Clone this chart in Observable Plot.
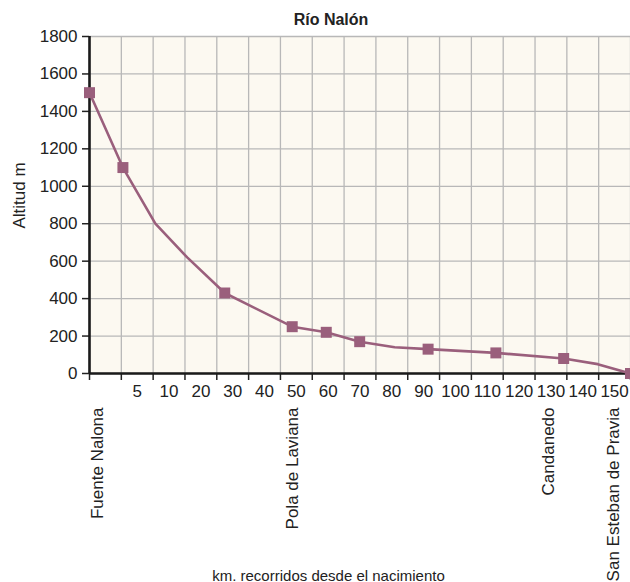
<!DOCTYPE html>
<html><head><meta charset="utf-8">
<script src="https://cdn.jsdelivr.net/npm/d3@7"></script>
<script src="https://cdn.jsdelivr.net/npm/@observablehq/plot@0.6"></script>
<style>body{margin:0;background:#fff;} svg{display:block;}</style>
</head><body><div id="chart"></div>
<script>
const title = "Río Nalón";
const yLabel = "Altitud m";
const xLabel = "km. recorridos desde el nacimiento";
// category bands along the x axis (one band per label)
const kmLabels = ["", "5", "10", "20", "30", "40", "50", "60", "70", "80", "90", "100", "110", "120", "130", "140", "150"];
const yTicks = [0, 200, 400, 600, 800, 1000, 1200, 1400, 1600, 1800];
// profile points: position along axis (band units), altitude (m), marker shown
const profilePos = [0, 1.05, 2.07, 3.07, 4.25, 6.37, 7.44, 8.49, 9.59, 10.64, 12.77, 14.9, 15.97, 17];
const profileAlt = [1500, 1100, 800, 620, 430, 250, 220, 170, 140, 130, 110, 80, 50, 0];
const profileMarker = [1, 1, 0, 0, 1, 1, 1, 1, 0, 1, 1, 1, 0, 1];
// place names along the river
const places = ["Fuente Nalona", "Pola de Laviana", "Candanedo", "San Esteban de Pravia"];
const placePos = [0.25, 6.38, 14.42, 16.47];

const points = profilePos.map((p, i) => ({pos: p, alt: profileAlt[i], marker: profileMarker[i] === 1}));
const bands = kmLabels.map((l, i) => ({pos: i + 0.5, label: l}));
const gridX = d3.range(kmLabels.length + 1);
const placeData = places.map((n, i) => ({name: n, pos: placePos[i]}));

const color = "#9a5f7c";
const ink = "#222";

const chart = Plot.plot({
  width: 630, height: 582,
  marginLeft: 89, marginRight: 0, marginTop: 36, marginBottom: 209,
  x: {domain: [0, kmLabels.length], axis: null},
  y: {domain: [0, 1800], axis: null},
  style: {fontFamily: "'Liberation Sans', Arial, sans-serif", fontSize: "17px", color: ink, background: "#fff", overflow: "visible"},
  marks: [
    Plot.frame({fill: "#fcf9f1", stroke: null}),
    Plot.ruleX(gridX, {stroke: "#b8b8b8", strokeWidth: 1.3}),
    Plot.ruleY(yTicks, {stroke: "#b8b8b8", strokeWidth: 1.3}),
    Plot.axisY(yTicks, {anchor: "left", tickSize: 7, tickPadding: 5, label: null, fontSize: 17, strokeWidth: 1.5, tickFormat: d => String(d)}),
    Plot.axisX(gridX, {anchor: "bottom", tickSize: 7, label: null, tickFormat: () => "", strokeWidth: 1.5}),
    Plot.text(bands, {x: "pos", text: "label", frameAnchor: "bottom", lineAnchor: "top", dy: 11, fontSize: 17, fill: ink}),
    Plot.text(placeData, {x: "pos", text: "name", frameAnchor: "bottom", rotate: -90, textAnchor: "end", lineAnchor: "middle", dy: 34, fontSize: 17, fill: ink}),
    Plot.ruleX([0], {stroke: "#1a1a1a", strokeWidth: 2.6}),
    Plot.ruleY([0], {stroke: "#1a1a1a", strokeWidth: 2.6}),
    Plot.line(points, {x: "pos", y: "alt", stroke: color, strokeWidth: 2.6}),
    Plot.dot(points.filter(d => d.marker), {x: "pos", y: "alt", symbol: "square", r: 6.2, fill: color, stroke: null}),
    Plot.text([title], {frameAnchor: "top", lineAnchor: "bottom", dx: -29, dy: -12, fontSize: 16, fontWeight: "bold", fill: ink}),
    Plot.text([xLabel], {frameAnchor: "bottom", lineAnchor: "bottom", dx: -31.5, dy: 207, fontSize: 15, fill: ink}),
    Plot.text([yLabel], {frameAnchor: "left", rotate: -90, lineAnchor: "middle", textAnchor: "middle", dx: -70, dy: -9.5, fontSize: 17, fill: ink})
  ]
});
document.getElementById("chart").appendChild(chart);
</script>
</body></html>
